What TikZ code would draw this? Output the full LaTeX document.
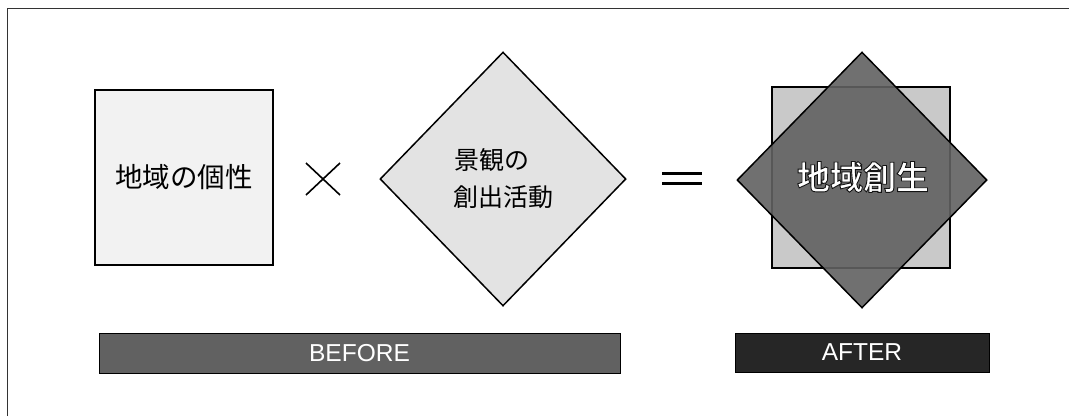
\documentclass[tikz,border=0pt]{standalone}
\usepackage{fontspec}
\setmainfont{Liberation Sans}
\newfontfamily\jp{Noto Sans CJK JP}
\newfontfamily\jpbold{Noto Sans CJK JP Bold}
\usetikzlibrary{shapes.geometric}
\newcommand{\outlinetext}[1]{\special{pdf:code q 2 Tr 0.9 w 0.08 0.08 0.08 RG}#1\special{pdf:code Q}}
\begin{document}
\begin{tikzpicture}[x=1pt,y=-1pt,
  sqbox/.style={draw=black,line width=1.5pt,rectangle,inner sep=0pt,minimum width=178pt,minimum height=176pt},
  dia/.style={draw=black,line width=1.5pt,diamond,inner sep=0pt,aspect=1},
  bar/.style={draw=black,line width=1pt,rectangle,inner sep=0pt,text=white,font=\fontsize{24.5}{26}\selectfont},
  symline/.style={line width=2.2pt,line cap=butt}
]
\useasboundingbox (0,0) rectangle (1069,416);
% frame
\coordinate (ftl) at (7,8);
\coordinate (ftr) at (1069,8);
\coordinate (fbl) at (7,416);
\draw[line width=1pt,black!80] (fbl) -- (ftl) -- (ftr);
% BEFORE: square
\node[sqbox,fill=gray!10,minimum height=175pt,font=\jp\fontsize{27.5}{30}\selectfont] (indiv) at (184,177.5) {地域の個性};
% times sign
\coordinate (x1) at (306,163);
\coordinate (x2) at (340,195);
\coordinate (x3) at (340,163);
\coordinate (x4) at (306,195);
\draw[line width=1.6pt] (x1) -- (x2);
\draw[line width=1.6pt] (x3) -- (x4);
% diamond
\node[dia,fill=gray!22,minimum width=246pt,minimum height=254pt,align=center,font=\jp\fontsize{25}{37}\selectfont] (land) at (503,179) {景観の\hspace*{22pt}\\創出活動};
% equals sign
\coordinate (e1) at (662,173.5);
\coordinate (e2) at (702,173.5);
\coordinate (e3) at (662,183.5);
\coordinate (e4) at (702,183.5);
\draw[symline] (e1) -- (e2);
\draw[symline] (e3) -- (e4);
% AFTER: square + diamond
\node[sqbox,fill=gray!42,minimum height=181pt] (asq) at (861,177.5) {};
\node[dia,fill=black!62,fill opacity=0.9,minimum width=250pt,minimum height=256pt] (adia) at (862,180) {};
\node[font=\jpbold\fontsize{33}{36}\selectfont,text=white] (reg) at (863,177) {\outlinetext{地域創生}};
% bars
\node[bar,fill=black!62,minimum width=521pt,minimum height=40pt] (before) at (359.5,353) {BEFORE};
\node[bar,fill=black!85,minimum width=254pt,minimum height=39pt] (after) at (862,352.5) {AFTER};
\end{tikzpicture}
\end{document}
